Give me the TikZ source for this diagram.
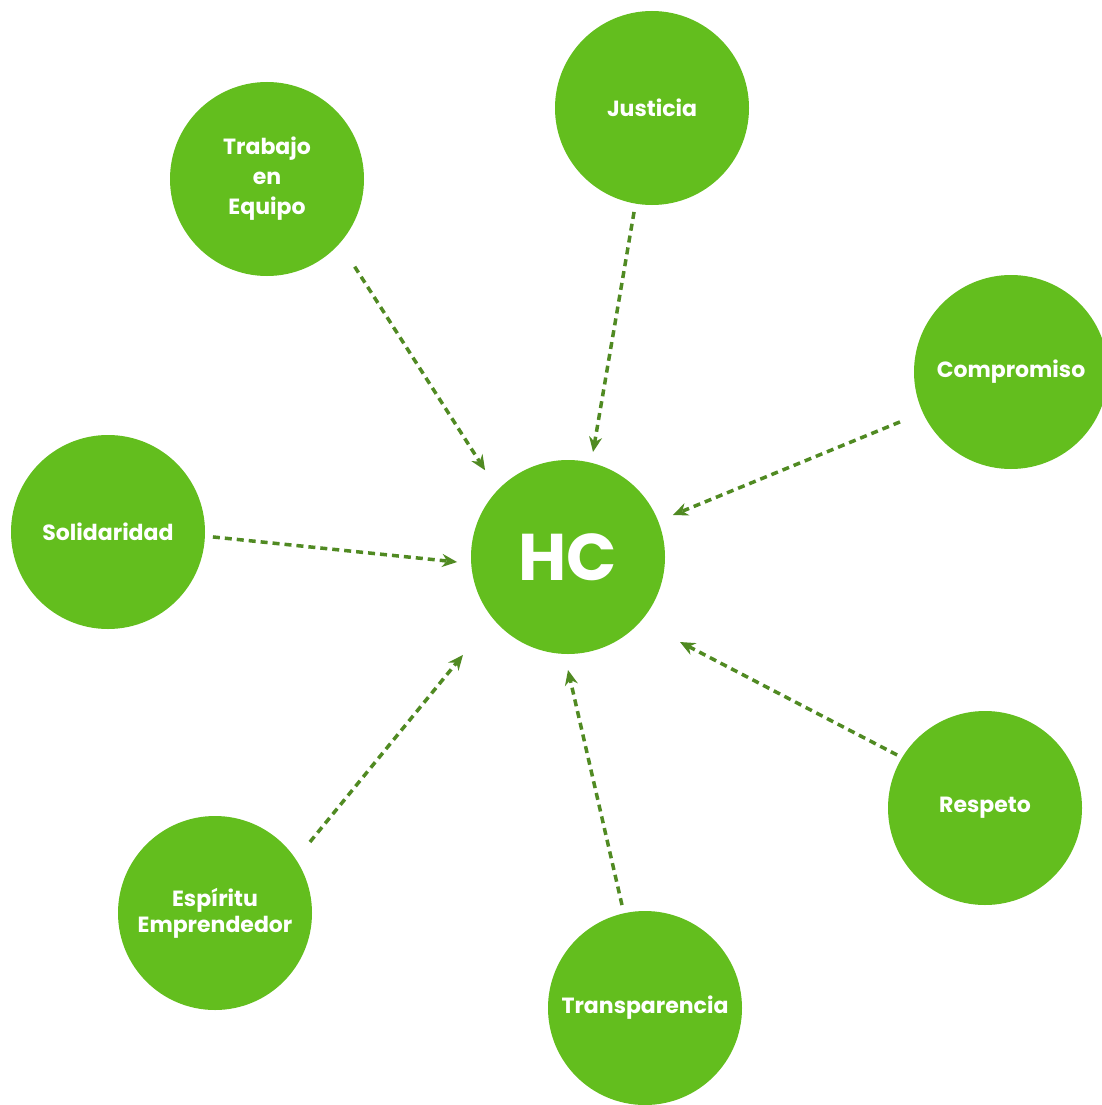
\documentclass[tikz,border=0pt]{standalone}
\usepackage{fontspec}
\setmainfont{Poppins}
\usetikzlibrary{arrows.meta}
\definecolor{circ}{RGB}{99,190,30}
\definecolor{lnk}{RGB}{80,138,34}
\begin{document}
\begin{tikzpicture}[x=1pt,y=1pt,
  val/.style={circle, fill=circ, minimum size=194pt, inner sep=0pt, text=white,
    font=\fontsize{22}{30}\selectfont\bfseries, align=center},
  link/.style={draw=lnk, line width=3.5pt, dash pattern=on 7pt off 5pt,
    -{Stealth[length=15pt,width=13pt]}}]
\useasboundingbox (0,0) rectangle (1101,-1105);
\fill[white] (0,0) rectangle (1101,-1105);
\node[val] (hc) at (568,-557) {\fontsize{66}{70}\selectfont HC};
\node[val] (trab) at (267,-179) {Trabajo\\en\\Equipo};
\node[val] (just) at (652,-108) {Justicia};
\node[val] (comp) at (1011,-372) {Compromiso};
\node[val] (soli) at (108,-532) {Solidaridad};
\node[val] (resp) at (985,-808) {Respeto};
\node[val, font=\fontsize{22}{26}\selectfont\bfseries] (espi) at (215,-913) {Espíritu\\Emprendedor};
\node[val] (tran) at (645,-1008) {Transparencia};
\draw[link] ([shift={(-45:124)}]trab.center) -- ([shift={(133.7:120)}]hc.center);
\draw[link] ([shift={(-99.8:105.5)}]just.center) -- ([shift={(76.6:108)}]hc.center);
\draw[link] ([shift={(204.2:121.7)}]comp.center) -- ([shift={(21.8:113)}]hc.center);
\draw[link] ([shift={(-2.7:105)}]soli.center) -- ([shift={(182.6:111)}]hc.center);
\draw[link] ([shift={(36.8:118.6)}]espi.center) -- ([shift={(223:143.6)}]hc.center);
\draw[link] ([shift={(102.6:105.5)}]tran.center) -- ([shift={(270:113)}]hc.center);
\draw[link] ([shift={(148.9:102.7)}]resp.center) -- ([shift={(-37.2:140.6)}]hc.center);
\end{tikzpicture}
\end{document}
